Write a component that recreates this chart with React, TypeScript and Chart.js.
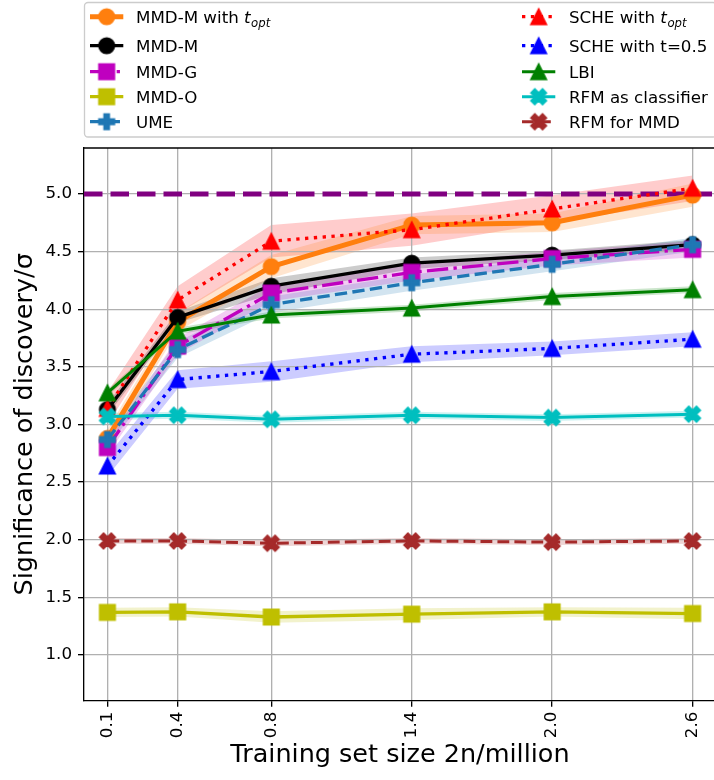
import React, { useEffect, useRef } from "react";
import { Chart, registerables } from "chart.js";

Chart.register(...registerables);

// ---------------- data ----------------
const xValues = [0.1, 0.4, 0.8, 1.4, 2.0, 2.6];
const xTickValues = [0.1, 0.4, 0.8, 1.4, 2.0, 2.6];
const yTickValues = [1.0, 1.5, 2.0, 2.5, 3.0, 3.5, 4.0, 4.5, 5.0];
const xMin = 0.0;
const xMax = 2.7;
const yMin = 0.604;
const yMax = 5.399;
const discoveryLevel = 5.0;

const mmdMOpt = [2.88, 3.89, 4.37, 4.73, 4.75, 4.99];
const mmdMOptErr = [0.08, 0.08, 0.1, 0.08, 0.08, 0.1];
const mmdM = [3.13, 3.93, 4.2, 4.4, 4.47, 4.56];
const mmdMErr = [0.05, 0.05, 0.07, 0.05, 0.04, 0.04];
const mmdG = [2.8, 3.68, 4.14, 4.32, 4.44, 4.52];
const mmdGErr = [0.06, 0.07, 0.07, 0.07, 0.06, 0.07];
const mmdO = [1.37, 1.375, 1.33, 1.355, 1.375, 1.36];
const mmdOErr = [0.04, 0.04, 0.05, 0.05, 0.04, 0.05];
const ume = [2.87, 3.65, 4.04, 4.23, 4.39, 4.56];
const umeErr = [0.06, 0.07, 0.07, 0.07, 0.06, 0.06];
const scheOpt = [3.14, 4.08, 4.59, 4.69, 4.87, 5.05];
const scheOptErr = [0.14, 0.12, 0.14, 0.14, 0.12, 0.11];
const sche05 = [2.64, 3.39, 3.46, 3.61, 3.66, 3.74];
const sche05Err = [0.09, 0.08, 0.09, 0.07, 0.06, 0.06];
const lbi = [3.275, 3.81, 3.95, 4.01, 4.11, 4.17];
const lbiErr = [0.03, 0.03, 0.03, 0.03, 0.03, 0.03];
const rfmCls = [3.07, 3.08, 3.045, 3.08, 3.06, 3.09];
const rfmClsErr = [0.03, 0.03, 0.03, 0.03, 0.03, 0.03];
const rfmMmd = [1.99, 1.99, 1.97, 1.99, 1.98, 1.99];
const rfmMmdErr = [0.025, 0.025, 0.025, 0.025, 0.025, 0.025];

const xTitle = "Training set size 2n/million";
const yTitle = "Significance of discovery/\u03c3";

type Shape = "circle" | "square" | "triangle" | "plus" | "x";
interface SeriesDef {
  label: { text: string; it?: string; sub?: string };
  values: number[];
  err: number[];
  color: string;
  rgb: string;
  lw: number;
  dash: number[];
  marker: Shape;
}

const LW = 3.33;
const dotted = [LW, 1.65 * LW];
const dashed = [3.7 * LW, 1.6 * LW];
const dashdot = [6.4 * LW, 1.6 * LW, LW, 1.6 * LW];

const series: SeriesDef[] = [
  { label: { text: "MMD-M with ", it: "t", sub: "opt" }, values: mmdMOpt, err: mmdMOptErr, color: "#ff7f0e", rgb: "255,127,14", lw: 5, dash: [], marker: "circle" },
  { label: { text: "MMD-M" }, values: mmdM, err: mmdMErr, color: "#000000", rgb: "0,0,0", lw: LW, dash: [], marker: "circle" },
  { label: { text: "MMD-G" }, values: mmdG, err: mmdGErr, color: "#bf00bf", rgb: "191,0,191", lw: LW, dash: dashdot, marker: "square" },
  { label: { text: "MMD-O" }, values: mmdO, err: mmdOErr, color: "#bfbf00", rgb: "191,191,0", lw: LW, dash: [], marker: "square" },
  { label: { text: "UME" }, values: ume, err: umeErr, color: "#1f77b4", rgb: "31,119,180", lw: LW, dash: dashed, marker: "plus" },
  { label: { text: "SCHE with ", it: "t", sub: "opt" }, values: scheOpt, err: scheOptErr, color: "#ff0000", rgb: "255,0,0", lw: LW, dash: dotted, marker: "triangle" },
  { label: { text: "SCHE with t=0.5" }, values: sche05, err: sche05Err, color: "#0000ff", rgb: "0,0,255", lw: LW, dash: dotted, marker: "triangle" },
  { label: { text: "LBI" }, values: lbi, err: lbiErr, color: "#008000", rgb: "0,128,0", lw: 3, dash: [], marker: "triangle" },
  { label: { text: "RFM as classifier" }, values: rfmCls, err: rfmClsErr, color: "#00bfbf", rgb: "0,191,191", lw: 3, dash: [], marker: "x" },
  { label: { text: "RFM for MMD" }, values: rfmMmd, err: rfmMmdErr, color: "#a52a2a", rgb: "165,42,42", lw: 3, dash: [3.7 * 3.2, 1.6 * 3.2], marker: "x" },
];

const FONT = '"DejaVu Sans", sans-serif';
const TICK_SIZE = 16.7;
const TITLE_SIZE = 25.5;

function makeMarker(shape: Shape, color: string, ms = 15.5, mew = 1.6): HTMLCanvasElement {
  const size = Math.ceil(ms + mew + 4);
  const c = document.createElement("canvas");
  c.width = size;
  c.height = size;
  const ctx = c.getContext("2d")!;
  ctx.translate(size / 2, size / 2);
  ctx.fillStyle = color;
  ctx.strokeStyle = color;
  ctx.lineWidth = mew;
  ctx.lineJoin = "miter";
  ctx.beginPath();
  const h = ms / 2;
  const poly = (pts: number[][], s: number) => {
    pts.forEach((p, i) => (i === 0 ? ctx.moveTo(p[0] * s, -p[1] * s) : ctx.lineTo(p[0] * s, -p[1] * s)));
    ctx.closePath();
  };
  if (shape === "circle") ctx.arc(0, 0, h, 0, Math.PI * 2);
  else if (shape === "square") ctx.rect(-h, -h, ms, ms);
  else if (shape === "triangle") poly([[0, 0.5], [-0.5, -0.5], [0.5, -0.5]], ms);
  else if (shape === "plus")
    poly([[-1, -3], [1, -3], [1, -1], [3, -1], [3, 1], [1, 1], [1, 3], [-1, 3], [-1, 1], [-3, 1], [-3, -1], [-1, -1]], ms / 6);
  else
    poly([[-1, -2], [0, -1], [1, -2], [2, -1], [1, 0], [2, 1], [1, 2], [0, 1], [-1, 2], [-2, 1], [-1, 0], [-2, -1]], ms / 4);
  ctx.fill();
  ctx.stroke();
  return c;
}

export default function App() {
  const ref = useRef<HTMLCanvasElement | null>(null);

  useEffect(() => {
    const canvas = ref.current;
    if (!canvas) return;
    const markers = series.map((s) => makeMarker(s.marker, s.color));

    const datasets: any[] = [];
    // purple reference line (axhline)
    datasets.push({
      data: [
        { x: xMin, y: discoveryLevel },
        { x: xMax, y: discoveryLevel },
      ],
      borderColor: "#800080",
      borderWidth: 5,
      borderDash: [18.5, 8],
      pointRadius: 0,
      fill: false,
      order: 100,
    });
    series.forEach((s, k) => {
      datasets.push({
        data: xValues.map((x, i) => ({ x, y: s.values[i] + s.err[i] })),
        borderWidth: 0,
        borderColor: "rgba(0,0,0,0)",
        pointRadius: 0,
        backgroundColor: `rgba(${s.rgb},0.2)`,
        fill: "+1",
        order: 200,
      });
      datasets.push({
        data: xValues.map((x, i) => ({ x, y: s.values[i] - s.err[i] })),
        borderWidth: 0,
        borderColor: "rgba(0,0,0,0)",
        pointRadius: 0,
        fill: false,
        order: 200,
      });
      datasets.push({
        data: xValues.map((x, i) => ({ x, y: s.values[i] })),
        borderColor: s.color,
        borderWidth: s.lw,
        borderDash: s.dash,
        borderJoinStyle: "round",
        borderCapStyle: "butt",
        pointStyle: markers[k],
        pointRadius: 8,
        pointHoverRadius: 8,
        fill: false,
        tension: 0,
        order: 50 - k,
      });
    });

    const framePlugin = {
      id: "frameTop",
      afterDraw(chart: any) {
        const { ctx, chartArea } = chart;
        ctx.save();
        ctx.strokeStyle = "#000";
        ctx.lineWidth = 1.33;
        ctx.beginPath();
        ctx.moveTo(chartArea.left, chartArea.top);
        ctx.lineTo(chartArea.right + 2, chartArea.top);
        ctx.stroke();
        ctx.restore();
      },
    };

    const legendPlugin = {
      id: "mplLegend",
      afterDraw(chart: any) {
        const ctx: CanvasRenderingContext2D = chart.ctx;
        const left = 84, top = 2.5, right = 716, bottom = 137;
        const rows = [16.7, 45.7, 71.7, 96.7, 121.7];
        const cols = [
          { hx0: 90, hx1: 123.3, tx: 136 },
          { hx0: 522, hx1: 555.3, tx: 569 },
        ];
        ctx.save();
        ctx.beginPath();
        (ctx as any).roundRect(left + 0.5, top, right - left, bottom - top, 3.5);
        ctx.fillStyle = "rgba(255,255,255,0.8)";
        ctx.fill();
        ctx.strokeStyle = "#cccccc";
        ctx.lineWidth = 1.33;
        ctx.stroke();
        series.forEach((s, k) => {
          const col = cols[Math.floor(k / 5)];
          const y = rows[k % 5];
          ctx.save();
          ctx.strokeStyle = s.color;
          ctx.lineWidth = s.lw;
          ctx.setLineDash(s.dash);
          ctx.lineCap = "butt";
          ctx.beginPath();
          ctx.moveTo(col.hx0, y);
          ctx.lineTo(col.hx1, y);
          ctx.stroke();
          ctx.restore();
          const m = markers[k];
          ctx.drawImage(m, (col.hx0 + col.hx1) / 2 - m.width / 2, y - m.height / 2);
          ctx.fillStyle = "#000";
          ctx.textBaseline = "alphabetic";
          ctx.textAlign = "left";
          ctx.font = `${TICK_SIZE}px ${FONT}`;
          let x = col.tx;
          const base = y + 6;
          ctx.fillText(s.label.text, x, base);
          x += ctx.measureText(s.label.text).width;
          if (s.label.it) {
            ctx.font = `italic ${TICK_SIZE}px ${FONT}`;
            ctx.fillText(s.label.it, x, base);
            x += ctx.measureText(s.label.it).width + 0.5;
          }
          if (s.label.sub) {
            ctx.font = `italic ${TICK_SIZE * 0.7}px ${FONT}`;
            ctx.fillText(s.label.sub, x, base + 4);
          }
        });
        ctx.restore();
      },
    };

    const tickFont = { family: FONT, size: TICK_SIZE };
    const gridOpts = { color: "#b0b0b0", lineWidth: 1.33, tickLength: 6, tickColor: "#000", tickWidth: 1.33 };
    const borderOpts = { display: true, color: "#000", width: 1.33 };

    const chart = new Chart(canvas, {
      type: "line",
      data: { datasets },
      options: {
        animation: false,
        responsive: false,
        devicePixelRatio: 1,
        layout: { autoPadding: false, padding: { left: 0, right: 4, top: 148, bottom: 0 } },
        plugins: {
          legend: { display: false },
          tooltip: { enabled: false },
          filler: { drawTime: "beforeDraw", propagate: false },
        } as any,
        scales: {
          x: {
            type: "linear",
            min: xMin,
            max: xMax,
            afterBuildTicks: (s: any) => {
              s.ticks = xTickValues.map((v) => ({ value: v }));
            },
            afterFit: (s: any) => {
              s.height = 79.3;
              s.paddingLeft = 0;
              s.paddingRight = 0;
            },
            ticks: {
              autoSkip: false,
              minRotation: 90,
              maxRotation: 90,
              padding: 5,
              color: "#000",
              font: tickFont,
              callback: (v: any) => Number(v).toFixed(1),
            },
            grid: gridOpts,
            border: borderOpts,
            title: {
              display: true,
              text: xTitle,
              color: "#000",
              font: { family: FONT, size: TITLE_SIZE },
              padding: { top: 0, bottom: 9 },
            },
          },
          y: {
            type: "linear",
            min: yMin,
            max: yMax,
            afterBuildTicks: (s: any) => {
              s.ticks = yTickValues.map((v) => ({ value: v }));
            },
            afterFit: (s: any) => {
              s.width = 84;
              s.paddingTop = 0;
              s.paddingBottom = 0;
            },
            ticks: {
              padding: 6,
              color: "#000",
              font: tickFont,
              callback: (v: any) => Number(v).toFixed(1),
            },
            grid: gridOpts,
            border: borderOpts,
            title: {
              display: true,
              text: yTitle,
              color: "#000",
              font: { family: FONT, size: TITLE_SIZE },
              padding: { top: 10, bottom: 0 },
            },
          },
        },
      } as any,
      plugins: [framePlugin, legendPlugin],
    });
    return () => chart.destroy();
  }, []);

  return (
    <div
      style={{
        position: "absolute",
        left: 0,
        top: 0,
        width: 714,
        height: 780,
        overflow: "hidden",
        background: "#fff",
      }}
    >
      <canvas ref={ref} width={720} height={780} style={{ display: "block", width: 720, height: 780 }} />
    </div>
  );
}
